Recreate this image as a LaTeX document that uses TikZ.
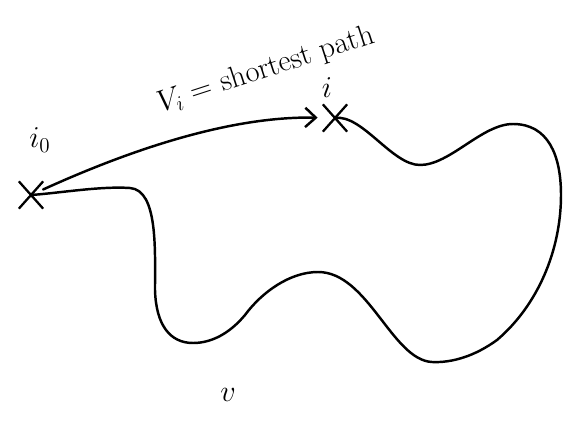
\documentclass[tikz,border=0pt]{standalone}
\usetikzlibrary{shapes.misc,arrows.meta}
\begin{document}
\begin{tikzpicture}[
  x=0.02cm, y=-0.02cm,
  >={Straight Barb[length=6pt,width=11pt]},
  pt/.style={cross out,draw,line width=1.3pt,minimum width=0.44cm,
             minimum height=0.5cm,inner sep=0pt},
  lab/.style={font=\LARGE,inner sep=1pt},
  curve/.style={line width=1.4pt,line cap=round,line join=round},
]
\useasboundingbox (0,0) rectangle (565,423);

\node[pt] (i0) at (31,195) {};
\node[pt] (i)  at (335,118) {};

\node[lab] (i0lab) at (40,140) {$i_0$};
\node[lab] (ilab)  at (327,88) {$i$};
\node[lab,rotate=18] (path) at (266,70) {$V_i$ = shortest path};
\node[lab] (vlab)  at (228,395) {$v$};

% the region, from i round to i0
\draw[curve] (i.center)
  .. controls (362,114) and (392,165) .. (420,165)
  .. controls (450,165) and (482,124) .. (513,124)
  .. controls (548,124) and (561,155) .. (561,195)
  .. controls (561,250) and (538,305) .. (497,340)
  .. controls (475,356) and (452,363) .. (432,362)
  .. controls (392,360) and (368,272) .. (318,272)
  .. controls (290,272) and (262,292) .. (245,315)
  .. controls (230,333) and (212,343) .. (193,343)
  .. controls (170,343) and (156,325) .. (155,290)
  .. controls (155,250) and (158,190) .. (130,188)
  .. controls (100,186) and (60,193) .. (i0.center);

% shortest path
\draw[curve,->,shorten >=3pt] (i0) .. controls (130,150) and (230,116) .. (i);

\end{tikzpicture}
\end{document}
